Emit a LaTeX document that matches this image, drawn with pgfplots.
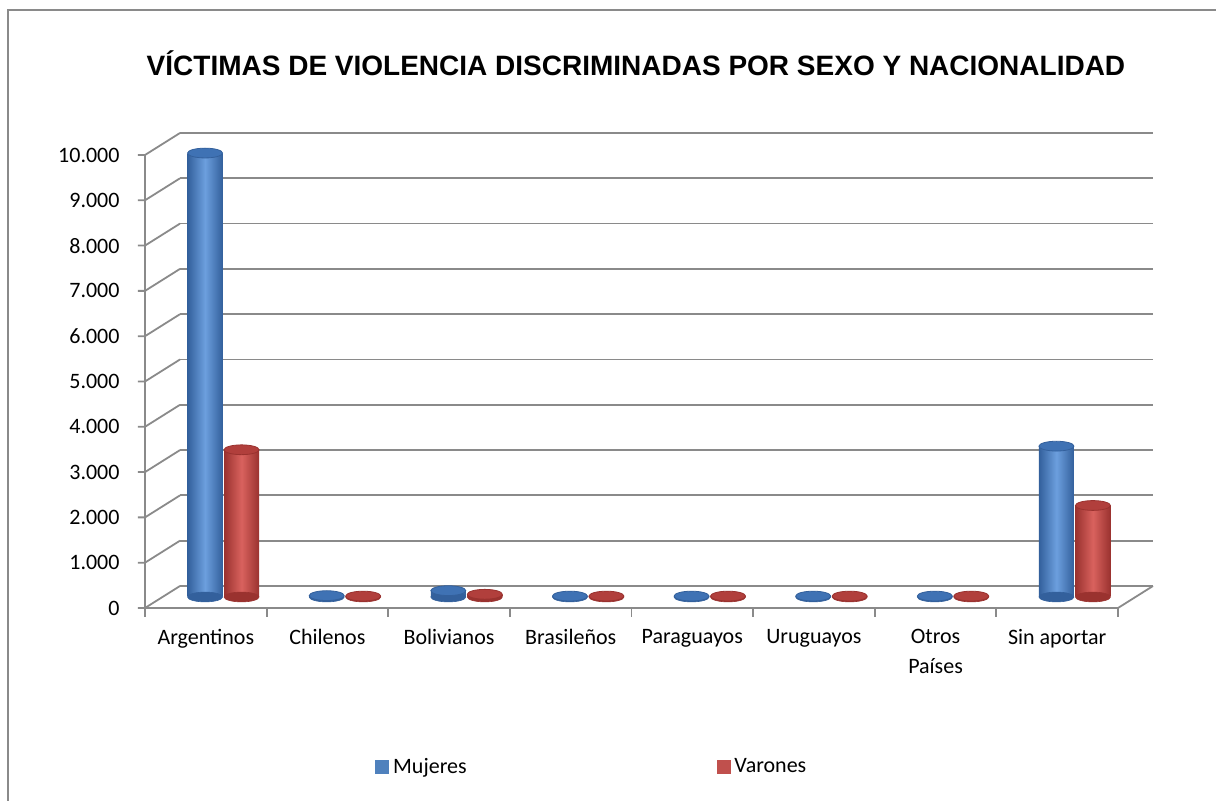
\documentclass[border=0pt]{standalone}
\usepackage{pgfplots}
\pgfplotsset{compat=1.18}
\usepackage{fontspec}
\setmainfont{Carlito}
\newfontfamily\titlefont{Liberation Sans}
\definecolor{gridc}{HTML}{8A8A8A}
\definecolor{blueM}{HTML}{4F81BD}
\definecolor{blueD}{HTML}{33609C}
\definecolor{blueL}{HTML}{6C9FDE}
\definecolor{blueT}{HTML}{3F72B4}
\definecolor{redM}{HTML}{C0504D}
\definecolor{redD}{HTML}{9A322F}
\definecolor{redL}{HTML}{D9625E}
\definecolor{redT}{HTML}{B13F3C}
% one cylinder: x, value, dark, light, top
\newcommand{\cyl}[5]{%
 \addplot[only marks, mark=*, mark size=8.75pt, mark options={yscale=0.28, fill=#3, draw=#3, line width=0.3pt}, xshift=-8.75pt, yshift=-5.5pt, forget plot]
   coordinates {(#1,0)};
 \addplot[ybar, bar width=17.5pt, bar shift=0pt, draw=none, left color=#3, right color=#3, middle color=#4, xshift=-8.75pt, yshift=-5.5pt, forget plot]
   coordinates {(#1,#2)};
 \addplot[only marks, mark=*, mark size=8.75pt, mark options={yscale=0.28, fill=#5, draw=#3, line width=0.4pt}, xshift=-8.75pt, yshift=-5.5pt, forget plot]
   coordinates {(#1,#2)};
}
\begin{document}
\begin{tikzpicture}
\useasboundingbox (0,0) rectangle (608pt,400.5pt);
\draw[gridc, line width=1pt] (4pt,-5pt) -- (4pt,395.5pt) -- (615pt,395.5pt);
\node[font=\titlefont\bfseries\fontsize{14pt}{16pt}\selectfont] at (318pt,369pt) {VÍCTIMAS DE VIOLENCIA DISCRIMINADAS POR SEXO Y NACIONALIDAD};
\begin{axis}[
  at={(90pt,107.5pt)}, anchor=south west,
  scale only axis, width=486.5pt, height=226.5pt,
  xmin=-0.5, xmax=7.5, ymin=0, ymax=10000,
  scaled y ticks=false,
  axis line style={draw=none}, major tick length=0pt,
  ytick={0,1000,2000,3000,4000,5000,6000,7000,8000,9000,10000},
  yticklabels={0,1.000,2.000,3.000,4.000,5.000,6.000,7.000,8.000,9.000,10.000},
  xtick={0,1,2,3,4,5,6,7},
  xticklabels={Argentinos,Chilenos,Bolivianos,Brasileños,Paraguayos,Uruguayos,Otros\\Países,Sin aportar},
  xticklabel style={align=center, xshift=-17.5pt, yshift=-18pt, font=\fontsize{11pt}{15pt}\selectfont},
  yticklabel style={xshift=-26.7pt, yshift=-11pt, font=\fontsize{11pt}{13pt}\selectfont},
  ymajorgrids, major grid style={gridc, line width=0.9pt},
  clip=false,
  legend columns=2,
  legend style={draw=none, fill=none, inner sep=0pt, at={(0.2004,-0.3996)}, anchor=west,
    font=\fontsize{11pt}{13pt}\selectfont,
    /tikz/every even column/.append style={column sep=123pt}},
]
% 3D frame decorations
\pgfplotsinvokeforeach{0,1000,2000,3000,4000,5000,6000,7000,8000,9000,10000}{
  \draw[gridc, line width=0.9pt] (axis cs:-0.5,#1) -- ++(-17.5pt,-11pt) -- ++(-3.5pt,0pt);
}
\draw[gridc, line width=0.9pt] ([shift={(-17.5pt,-11pt)}]axis cs:-0.5,0) -- ([shift={(-17.5pt,-11pt)}]axis cs:-0.5,10000);
\draw[gridc, line width=0.9pt] ([shift={(-17.5pt,-11pt)}]axis cs:-0.5,0) -- ([shift={(-17.5pt,-11pt)}]axis cs:7.5,0) -- (axis cs:7.5,0);
\pgfplotsinvokeforeach{-0.5,0.5,1.5,2.5,3.5,4.5,5.5,6.5,7.5}{
  \draw[gridc, line width=0.9pt] ([shift={(-17.5pt,-11pt)}]axis cs:#1,0) -- ([shift={(-17.5pt,-15.5pt)}]axis cs:#1,0);
}
% Mujeres
\cyl{-0.15}{9800}{blueD}{blueL}{blueT}
\cyl{0.85}{30}{blueD}{blueL}{blueT}
\cyl{1.85}{140}{blueD}{blueL}{blueT}
\cyl{2.85}{20}{blueD}{blueL}{blueT}
\cyl{3.85}{20}{blueD}{blueL}{blueT}
\cyl{4.85}{20}{blueD}{blueL}{blueT}
\cyl{5.85}{20}{blueD}{blueL}{blueT}
\cyl{6.85}{3330}{blueD}{blueL}{blueT}
% Varones
\cyl{0.15}{3250}{redD}{redL}{redT}
\cyl{1.15}{20}{redD}{redL}{redT}
\cyl{2.15}{60}{redD}{redL}{redT}
\cyl{3.15}{20}{redD}{redL}{redT}
\cyl{4.15}{20}{redD}{redL}{redT}
\cyl{5.15}{20}{redD}{redL}{redT}
\cyl{6.15}{20}{redD}{redL}{redT}
\cyl{7.15}{2020}{redD}{redL}{redT}
\addlegendimage{legend image code/.code={\fill[blueM] (0pt,-3.25pt) rectangle (6.5pt,3.25pt);}}
\addlegendentry{Mujeres}
\addlegendimage{legend image code/.code={\fill[redM] (0pt,-3.25pt) rectangle (6.5pt,3.25pt);}}
\addlegendentry{Varones}
\end{axis}
\end{tikzpicture}
\end{document}
